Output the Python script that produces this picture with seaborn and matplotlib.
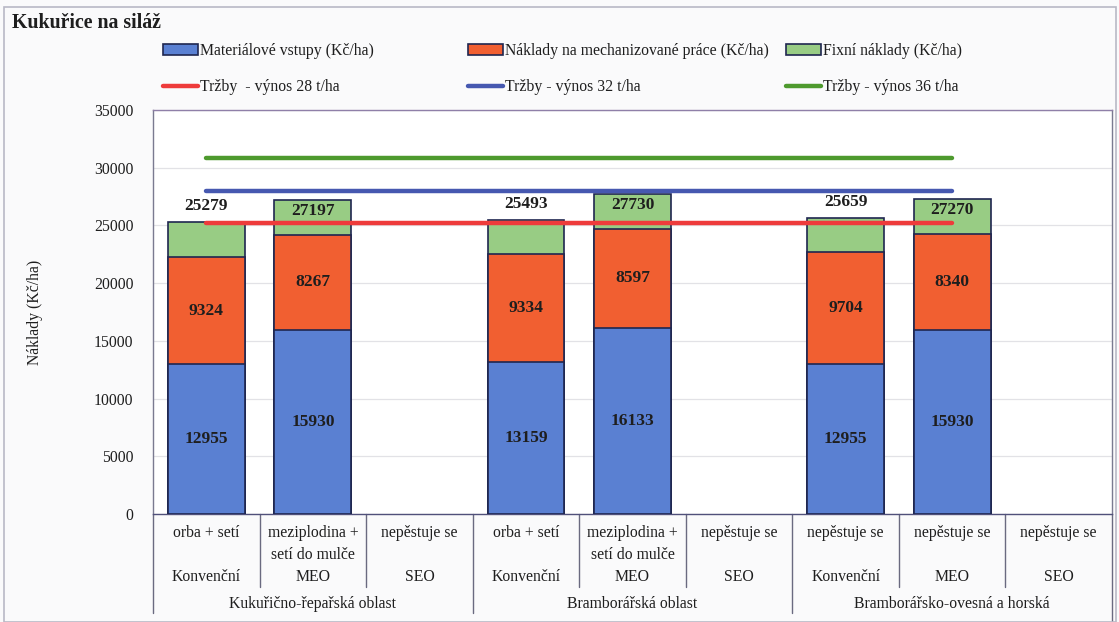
import matplotlib
matplotlib.use("Agg")
import matplotlib.pyplot as plt
import matplotlib.patches as mpatches
import matplotlib.lines as mlines
import matplotlib.transforms as mtransforms
import numpy as np
import pandas as pd
import seaborn as sns

# ---- data -------------------------------------------------------------
regions = ["Kukuřično-řepařská oblast", "Bramborářská oblast", "Bramborářsko-ovesná a horská"]
systems = ["Konvenční", "MEO", "SEO"]
technologies = [
    "orba + setí", "meziplodina +\nsetí do mulče", "nepěstuje se",
    "orba + setí", "meziplodina +\nsetí do mulče", "nepěstuje se",
    "nepěstuje se", "nepěstuje se", "nepěstuje se",
]
# bars exist for these category slots (0..8)
bar_slots = [0, 1, 3, 4, 6, 7]
bar_systems = ["Konvenční", "MEO", "Konvenční", "MEO", "Konvenční", "MEO"]
material = [12955, 15930, 13159, 16133, 12955, 15930]
mechanization = [9324, 8267, 9334, 8597, 9704, 8340]
fixed = [3000, 3000, 3000, 3000, 3000, 3000]
totals = [25279, 27197, 25493, 27730, 25659, 27270]

revenue_labels = ["Tržby  - výnos 28 t/ha", "Tržby - výnos 32 t/ha", "Tržby - výnos 36 t/ha"]
revenue_values = [25200, 28000, 30800]

series_labels = ["Materiálové vstupy (Kč/ha)",
                 "Náklady na mechanizované práce (Kč/ha)",
                 "Fixní náklady (Kč/ha)"]
y_ticks = [0, 5000, 10000, 15000, 20000, 25000, 30000, 35000]

# ---- style ------------------------------------------------------------
sns.set_theme(style="white")
plt.rcParams["font.family"] = ["Liberation Serif", "DejaVu Serif"]
TXT = "#1e1e1e"
C_BLUE, C_ORANGE, C_GREEN = "#5A80D2", "#F15F31", "#98CC84"
C_EDGE = "#1F2650"
L_RED, L_BLUE, L_GREEN = "#EE3B3B", "#4658B0", "#4E9A2E"

W, H = 1119, 622
fig = plt.figure(figsize=(W / 100, H / 100), dpi=100, facecolor="#FAFAFB")
ax = fig.add_axes([153 / W, 1 - 514 / H, (1112 - 153) / W, (514 - 110) / H])
ax.set_facecolor("white")

order = [str(i) for i in range(9)]
df = pd.DataFrame({
    "slot": [str(s) for s in bar_slots],
    "system": bar_systems,
    "material": material,
    "mech": mechanization,
    "fixed": fixed,
    "total": totals,
})
df["cum_mech"] = df["material"] + df["mech"]
df["cum_fixed"] = df["cum_mech"] + df["fixed"]

bar_kw = dict(order=order, width=0.72, edgecolor=C_EDGE, linewidth=1.2,
              errorbar=None, ax=ax, zorder=3)
sns.barplot(data=df, x="slot", y="cum_fixed", color=C_GREEN, saturation=1, **bar_kw)
sns.barplot(data=df, x="slot", y="cum_mech", color=C_ORANGE, saturation=1, **bar_kw)
sns.barplot(data=df, x="slot", y="material", color=C_BLUE, saturation=1, **bar_kw)

# revenue lines spanning the bars
for val, col in zip(revenue_values, [L_RED, L_BLUE, L_GREEN]):
    ax.plot([0, 7], [val, val], color=col, lw=3.2, solid_capstyle="round", zorder=5)

# value labels
lab_kw = dict(ha="center", va="center", fontsize=12.5, fontweight="bold", color=TXT, zorder=6)
for i, row in df.iterrows():
    x = int(row["slot"])
    ax.text(x, row["material"] / 2, f"{row['material']}", **lab_kw)
    ax.text(x, row["material"] + row["mech"] / 2, f"{row['mech']}", **lab_kw)
    if row["system"] == "Konvenční":
        ax.text(x, row["total"] + 1400, f"{row['total']}", **lab_kw)
    else:
        ax.text(x, row["total"] - 950, f"{row['total']}", **lab_kw)

ax.set_xlim(-0.5, 8.5)
ax.set_ylim(0, 35000)
ax.set_yticks(y_ticks)
ax.set_yticklabels([str(t) for t in y_ticks], fontsize=11.3, color=TXT)
ax.tick_params(axis="y", length=3, color="#9a9aa8", pad=11)
ax.set_xticks([])
ax.set_xlabel("")
ax.set_ylabel("Náklady (Kč/ha)", fontsize=11.3, color=TXT, labelpad=37)
ax.grid(axis="y", color="#e2e2e6", lw=0.9, zorder=0)
for s in ["left", "right", "top", "bottom"]:
    ax.spines[s].set_visible(True)
    ax.spines[s].set_linewidth(1.0)
ax.spines["left"].set_color("#7a7a90")
ax.spines["right"].set_color("#7a7a90")
ax.spines["top"].set_color("#8f7fa8")
ax.spines["bottom"].set_color("#50507a")

# multi-level category axis below the plot
trans = mtransforms.blended_transform_factory(ax.transData, fig.transFigure)
def fy(px):
    return 1 - px / H

cat_kw = dict(ha="center", fontsize=11.3, color=TXT, transform=trans, clip_on=False)
for i, tech in enumerate(technologies):
    ax.text(i, fy(525), tech, va="top", linespacing=1.5, **cat_kw)
    ax.text(i, fy(577), systems[i % 3], va="center", **cat_kw)
for g, reg in enumerate(regions):
    ax.text(g * 3 + 1, fy(604), reg, va="center", **cat_kw)

sep_kw = dict(color="#6a6a80", lw=1.0, transform=trans, clip_on=False)
for b in np.arange(-0.5, 9.0, 1.0):
    if b in (-0.5, 2.5, 5.5):
        ax.add_line(mlines.Line2D([b, b], [fy(514), fy(613)], **sep_kw))
    elif b == 8.5:
        ax.add_line(mlines.Line2D([b, b], [fy(514), fy(622)], **sep_kw))
    else:
        ax.add_line(mlines.Line2D([b, b], [fy(514), fy(587)], **sep_kw))

# title
fig.text(12 / W, fy(23), "Kukuřice na siláž", fontsize=14.3, fontweight="bold",
         color=TXT, ha="left", va="center")

# legends: three columns, bar series on top, revenue lines below
bar_handles = [mpatches.Patch(facecolor=c, edgecolor=C_EDGE, linewidth=1.2)
               for c in (C_BLUE, C_ORANGE, C_GREEN)]
line_handles = [mlines.Line2D([], [], color=c, lw=3.2) for c in (L_RED, L_BLUE, L_GREEN)]
col_x = [163, 468, 786]
for k in range(3):
    leg = fig.legend([bar_handles[k], line_handles[k]], [series_labels[k], revenue_labels[k]],
                     loc="upper left", bbox_to_anchor=(col_x[k] / W, fy(43)),
                     frameon=False, fontsize=11.3, borderpad=0, borderaxespad=0,
                     handlelength=2.2, handleheight=0.75, handletextpad=0.15,
                     labelspacing=1.3)
    for t in leg.get_texts():
        t.set_color(TXT)

# outer chart frame
fig.patches.append(mpatches.Rectangle((4 / W, 0), (1116 - 4) / W, 1 - 7 / H,
                                      transform=fig.transFigure, fill=False,
                                      edgecolor="#b9b9c6", lw=1.2))

fig.savefig("out.png", dpi=100, facecolor=fig.get_facecolor())
